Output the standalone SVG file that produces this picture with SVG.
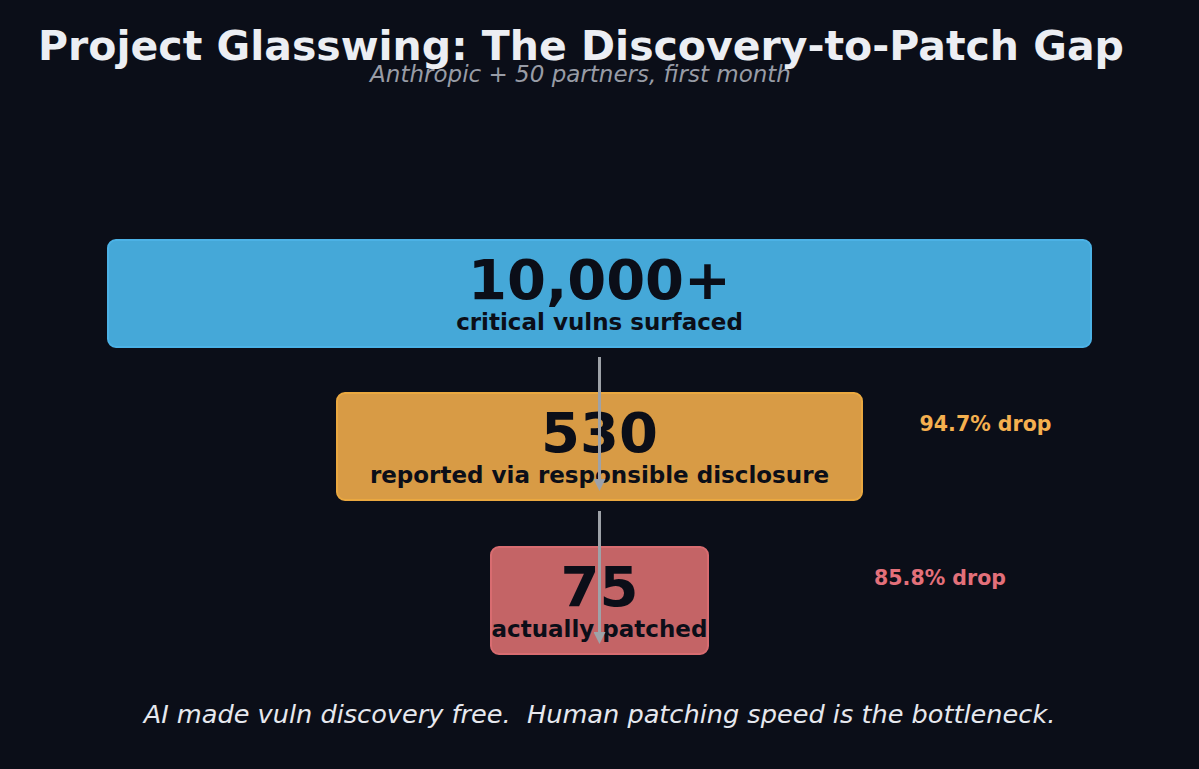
<svg xmlns="http://www.w3.org/2000/svg" width="1199" height="769" viewBox="0 0 1199 769">
<style>
.num{font-family:"DejaVu Sans",sans-serif;font-weight:bold;fill:#0b0e18;text-anchor:middle}
.lbl{font-family:"DejaVu Sans",sans-serif;font-weight:bold;font-size:23px;fill:#0b0e18;text-anchor:middle}
.drop{font-family:"DejaVu Sans",sans-serif;font-weight:bold;font-size:20.5px;text-anchor:middle}
.conn{stroke:#9ea2a8;stroke-width:3;fill:none;marker-end:url(#ah)}
</style>
<defs>
<marker id="ah" markerWidth="4" markerHeight="4" refX="3" refY="2" orient="auto" markerUnits="strokeWidth">
<path d="M0,0 L4,2 L0,4 z" fill="#9ea2a8"/>
</marker>
</defs>
<rect width="1199" height="769" fill="#0b0e18"/>
<g id="title">
<text x="581" y="60" font-family="DejaVu Sans, sans-serif" font-weight="bold" font-size="41" fill="#eceef3" text-anchor="middle">Project Glasswing: The Discovery-to-Patch Gap</text>
<text x="580.5" y="82" font-family="DejaVu Sans, sans-serif" font-style="italic" font-size="23" fill="#989ca6" text-anchor="middle">Anthropic + 50 partners, first month</text>
</g>
<g id="node-surfaced">
<rect x="108" y="240" width="983" height="107" rx="8" fill="#45a8d8" stroke="#4cb2e6" stroke-width="2"/>
<text class="num" x="599.5" y="299" font-size="56">10,000+</text>
<text class="lbl" x="599.5" y="330">critical vulns surfaced</text>
</g>
<g id="node-reported">
<rect x="337" y="393" width="525" height="107" rx="8" fill="#d89b45" stroke="#eaa840" stroke-width="2"/>
<text class="num" x="599.5" y="452" font-size="56">530</text>
<text class="lbl" x="599.5" y="483">reported via responsible disclosure</text>
</g>
<g id="node-patched">
<rect x="491" y="547" width="217" height="107" rx="8" fill="#c46466" stroke="#d86c70" stroke-width="2"/>
<text class="num" x="599.5" y="606" font-size="56">75</text>
<text class="lbl" x="599.5" y="637">actually patched</text>
</g>
<g id="connectors">
<line class="conn" x1="599.5" y1="357" x2="599.5" y2="488"/>
<line class="conn" x1="599.5" y1="511" x2="599.5" y2="641"/>
</g>
<g id="drop-labels">
<text class="drop" x="985.5" y="431" fill="#f5b04f">94.7% drop</text>
<text class="drop" x="940" y="585" fill="#e3707a">85.8% drop</text>
</g>
<g id="footer">
<text x="599.5" y="723" xml:space="preserve" style="white-space:pre" font-family="DejaVu Sans, sans-serif" font-style="italic" font-size="25.6" fill="#e6e8ee" text-anchor="middle">AI made vuln discovery free.  Human patching speed is the bottleneck.</text>
</g>
</svg>
